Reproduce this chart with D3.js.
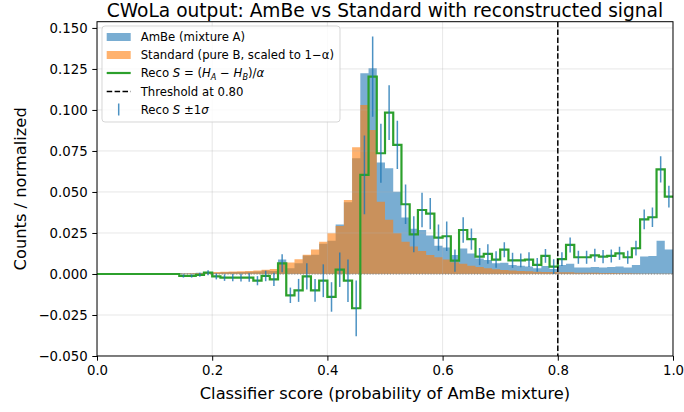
<!DOCTYPE html>
<html><head><meta charset="utf-8">
<script src="https://cdn.jsdelivr.net/npm/d3@7"></script>
<style>body{margin:0;background:#fff} text{font-family:"DejaVu Sans",sans-serif;fill:#000}</style>
</head><body><svg id="c" width="684" height="412"></svg>
<script>
const nBins = 70;
const xRange = [0, 1];
const xTicks = [0, 0.2, 0.4, 0.6, 0.8, 1.0];
const yTicks = [-0.05, -0.025, 0, 0.025, 0.05, 0.075, 0.1, 0.125, 0.15];
const threshold = 0.80;
const titleText = "CWoLa output: AmBe vs Standard with reconstructed signal";
const xLabel = "Classifier score (probability of AmBe mixture)";
const yLabel = "Counts / normalized";

// AmBe (mixture A) histogram, normalized
const ambe = [0,0,0,0,0,0,0,0,0,0,
  0.0005,0.0005,0.0008,0.0010,0.0008,
  0.0010,0.0012,0.0012,0.0014,0.0015,
  0.0022,0.0018,0.0088,0.0035,0.0065,
  0.0112,0.0118,0.0184,0.0203,0.0301,
  0.0438,0.0705,0.1224,0.1254,0.0679,
  0.0644,0.0502,0.0345,0.0275,0.0268,
  0.0235,0.0172,0.0162,0.0115,0.0155,
  0.0125,0.0095,0.0085,0.0065,0.0068,
  0.0055,0.0050,0.0045,0.0035,0.0048,
  0.0030,0.0055,0.0062,0.0040,0.0040,
  0.0042,0.0040,0.0042,0.0045,0.0040,
  0.0055,0.0106,0.0110,0.0203,0.0150];
// Standard (pure B, scaled to 1-alpha)
const standard = [0,0,0,0,0,0,0,0,0,0,
  0.0003,0.0004,0.0006,0.0008,0.0012,
  0.0014,0.0015,0.0016,0.0018,0.0022,
  0.0026,0.0030,0.0068,0.0070,0.0090,
  0.0118,0.0150,0.0197,0.0248,0.0293,
  0.0451,0.0772,0.1030,0.0878,0.0440,
  0.0330,0.0248,0.0197,0.0167,0.0140,
  0.0116,0.0102,0.0088,0.0072,0.0062,
  0.0050,0.0042,0.0035,0.0029,0.0024,
  0.0022,0.0018,0.0016,0.0014,0.0012,
  0.0012,0.0010,0.0010,0.0008,0.0008,
  0.0007,0.0006,0.0006,0.0005,0.0004,
  0.0003,0.0002,0.0002,0.0001,0.0001];
// Reconstructed signal S = (H_A - H_B)/alpha
const recoS = [0,0,0,0,0,0,0,0,0,0,
  -0.0012,-0.0012,-0.0005,0.0008,-0.0015,
  -0.0022,-0.0022,-0.0022,-0.0022,-0.0041,
  -0.0012,-0.0033,0.0065,-0.0130,-0.0100,
  -0.0014,-0.0100,-0.0041,-0.0140,0.0026,
  -0.0041,-0.0209,0.0604,0.1203,0.0736,
  0.0984,0.0787,0.0425,0.0242,0.0390,
  0.0368,0.0222,0.0230,0.0082,0.0268,
  0.0212,0.0106,0.0122,0.0088,0.0148,
  0.0083,0.0083,0.0088,0.0055,0.0110,
  0.0045,0.0090,0.0177,0.0102,0.0102,
  0.0114,0.0106,0.0110,0.0126,0.0102,
  0.0157,0.0333,0.0346,0.0638,0.0472];
// 1 sigma uncertainty on S
const recoSigma = [0,0,0,0,0,0,0,0,0,0,
  0.0010,0.0010,0.0012,0.0015,0.0018,
  0.0020,0.0022,0.0024,0.0026,0.0028,
  0.0032,0.0040,0.0055,0.0047,0.0070,
  0.0080,0.0070,0.0100,0.0090,0.0105,
  0.0130,0.0170,0.0240,0.0245,0.0180,
  0.0167,0.0147,0.0120,0.0110,0.0105,
  0.0095,0.0080,0.0090,0.0068,0.0078,
  0.0065,0.0052,0.0060,0.0050,0.0046,
  0.0046,0.0042,0.0045,0.0042,0.0042,
  0.0045,0.0042,0.0046,0.0040,0.0040,
  0.0040,0.0040,0.0040,0.0040,0.0040,
  0.0045,0.0060,0.0060,0.0080,0.0066];

const svg = d3.select('#c');
const m = {l: 97, r: 673, t: 21.7, b: 356};
const x = d3.scaleLinear().domain(xRange).range([m.l, m.r]);
const y = d3.scaleLinear().domain([-0.05, 0.1538]).range([m.b, m.t]);
const edges = d3.range(nBins + 1).map(i => xRange[0] + (xRange[1] - xRange[0]) * i / nBins);
const centers = d3.range(nBins).map(i => (edges[i] + edges[i + 1]) / 2);

svg.append('defs').append('clipPath').attr('id', 'clip').append('rect')
  .attr('x', m.l).attr('y', m.t).attr('width', m.r - m.l).attr('height', m.b - m.t);
const plot = svg.append('g').attr('clip-path', 'url(#clip)');

function stepPts(vals) {
  const p = vals.map((v, i) => [edges[i], v]);
  p.push([edges[nBins], vals[nBins - 1]]);
  return p;
}
const area = d3.area().curve(d3.curveStepAfter).x(d => x(d[0])).y0(y(0)).y1(d => y(d[1]));
plot.append('path').attr('d', area(stepPts(ambe))).attr('fill', '#1f77b4').attr('fill-opacity', 0.6);
plot.append('path').attr('d', area(stepPts(standard))).attr('fill', '#ff7f0e').attr('fill-opacity', 0.6);

// grid
const grid = plot.append('g').attr('stroke', '#b0b0b0').attr('stroke-opacity', 0.3).attr('stroke-width', 1);
xTicks.forEach(t => grid.append('line').attr('x1', x(t)).attr('x2', x(t)).attr('y1', m.t).attr('y2', m.b));
yTicks.forEach(t => grid.append('line').attr('y1', y(t)).attr('y2', y(t)).attr('x1', m.l).attr('x2', m.r));

// zero line
plot.append('line').attr('x1', m.l).attr('x2', m.r).attr('y1', y(0)).attr('y2', y(0))
  .attr('stroke', '#808080').attr('stroke-width', 1.1).attr('stroke-dasharray', '1.1,1.8');

// reco step line
const line = d3.line().curve(d3.curveStepAfter).x(d => x(d[0])).y(d => y(d[1]));
plot.append('path').attr('d', line(stepPts(recoS))).attr('fill', 'none')
  .attr('stroke', '#2ca02c').attr('stroke-width', 2.2);

// error bars
plot.append('g').selectAll('line').data(d3.range(nBins).filter(i => recoSigma[i] > 0)).join('line')
  .attr('x1', i => x(centers[i])).attr('x2', i => x(centers[i]))
  .attr('y1', i => y(recoS[i] - recoSigma[i])).attr('y2', i => y(recoS[i] + recoSigma[i]))
  .attr('stroke', '#1f77b4').attr('stroke-opacity', 0.8).attr('stroke-width', 1.5);

// threshold
plot.append('line').attr('x1', x(threshold)).attr('x2', x(threshold)).attr('y1', m.t).attr('y2', m.b)
  .attr('stroke', '#000').attr('stroke-width', 1.5).attr('stroke-dasharray', '5.5,2.4');

// axes
const xAxis = d3.axisBottom(x).tickValues(xTicks).tickFormat(d3.format('.1f')).tickSize(4.7).tickPadding(4.7).tickSizeOuter(0);
const yAxis = d3.axisLeft(y).tickValues(yTicks).tickFormat(d3.format('.3f')).tickSize(4.7).tickPadding(4.7).tickSizeOuter(0);
const gx = svg.append('g').attr('transform', `translate(0,${m.b})`).call(xAxis);
const gy = svg.append('g').attr('transform', `translate(${m.l},0)`).call(yAxis);
[gx, gy].forEach(g => {
  g.select('.domain').remove();
  g.selectAll('.tick line').attr('stroke', '#000').attr('stroke-width', 1);
  g.selectAll('.tick text').attr('font-size', 13.3).attr('font-family', 'DejaVu Sans').attr('fill', '#000');
});
svg.append('rect').attr('x', m.l).attr('y', m.t).attr('width', m.r - m.l).attr('height', m.b - m.t)
  .attr('fill', 'none').attr('stroke', '#000').attr('stroke-width', 1);

// labels
svg.append('text').attr('x', (m.l + m.r) / 2).attr('y', 16.5).attr('text-anchor', 'middle').attr('font-size', 18.6).text(titleText);
svg.append('text').attr('x', (m.l + m.r) / 2).attr('y', 399).attr('text-anchor', 'middle').attr('font-size', 16.3).text(xLabel);
svg.append('text').attr('transform', `translate(26,${(m.t + m.b) / 2}) rotate(-90)`).attr('text-anchor', 'middle').attr('font-size', 16.3).text(yLabel);

// legend
const lg = svg.append('g');
lg.append('rect').attr('x', 102).attr('y', 26).attr('width', 238).attr('height', 96).attr('rx', 3)
  .attr('fill', '#fff').attr('fill-opacity', 0.8).attr('stroke', '#cccccc').attr('stroke-opacity', 0.8);
const rows = [37, 55, 73, 91.5, 109.5];
const hx0 = 106.7, hx1 = 130.7, tx = 140.7, fs = 11.7;
lg.append('rect').attr('x', hx0).attr('y', rows[0] - 4).attr('width', hx1 - hx0).attr('height', 8).attr('fill', '#1f77b4').attr('fill-opacity', 0.6);
lg.append('rect').attr('x', hx0).attr('y', rows[1] - 4).attr('width', hx1 - hx0).attr('height', 8).attr('fill', '#ff7f0e').attr('fill-opacity', 0.6);
lg.append('line').attr('x1', hx0).attr('x2', hx1).attr('y1', rows[2]).attr('y2', rows[2]).attr('stroke', '#2ca02c').attr('stroke-width', 2.2);
lg.append('line').attr('x1', hx0).attr('x2', hx1).attr('y1', rows[3]).attr('y2', rows[3]).attr('stroke', '#000').attr('stroke-width', 1.5).attr('stroke-dasharray', '5.5,2.4');
lg.append('line').attr('x1', (hx0 + hx1) / 2).attr('x2', (hx0 + hx1) / 2).attr('y1', rows[4] - 6).attr('y2', rows[4] + 6).attr('stroke', '#1f77b4').attr('stroke-opacity', 0.8).attr('stroke-width', 1.5);

function ltext(i) { return lg.append('text').attr('x', tx).attr('y', rows[i] + fs * 0.36).attr('font-size', fs); }
ltext(0).text('AmBe (mixture A)');
ltext(1).text('Standard (pure B, scaled to 1\u2212\u03b1)');
const t2 = ltext(2);
t2.append('tspan').text('Reco ');
t2.append('tspan').attr('font-style', 'italic').text('S');
t2.append('tspan').text(' = (');
t2.append('tspan').attr('font-style', 'italic').text('H');
t2.append('tspan').attr('font-style', 'italic').attr('font-size', fs * 0.7).attr('dy', 2.5).text('A');
t2.append('tspan').attr('dy', -2.5).text(' \u2212 ');
t2.append('tspan').attr('font-style', 'italic').text('H');
t2.append('tspan').attr('font-style', 'italic').attr('font-size', fs * 0.7).attr('dy', 2.5).text('B');
t2.append('tspan').attr('dy', -2.5).text(')/');
t2.append('tspan').attr('font-style', 'italic').text('\u03b1');
ltext(3).text('Threshold at 0.80');
const t4 = ltext(4);
t4.append('tspan').text('Reco ');
t4.append('tspan').attr('font-style', 'italic').text('S');
t4.append('tspan').text(' \u00b11');
t4.append('tspan').attr('font-style', 'italic').text('\u03c3');
</script></body></html>
